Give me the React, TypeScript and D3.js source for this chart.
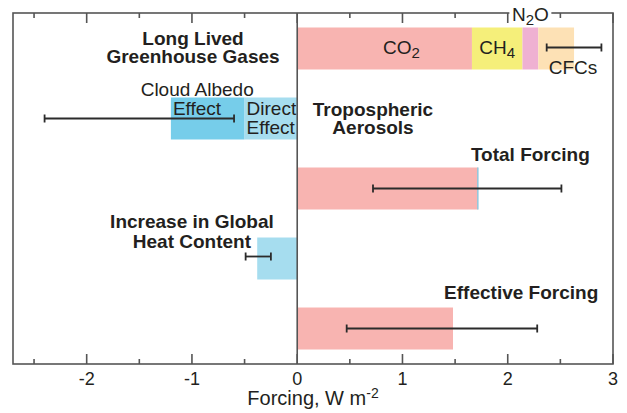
import React from "react";
import { scaleLinear, scaleBand } from "d3";

// rows, top to bottom
const rows = ["ghg", "aerosol", "total", "heat", "effective"];

const ghgNames = ["CO2", "CH4", "N2O", "CFCs"];
const ghgValues = [1.66, 0.48, 0.15, 0.34];
const ghgColors = ["#f8b4b1", "#f5ef7a", "#efb1d2", "#fde1b5"];
const ghgError = [2.37, 2.89];

const aerosolNames = ["Cloud Albedo Effect", "Direct Effect"];
const aerosolValues = [-0.7, -0.5];
const aerosolColors = ["#76cdea", "#a6ddef"];
const aerosolError = [-2.4, -0.6];

const totalValue = 1.72;
const totalError = [0.72, 2.51];

const heatValue = -0.38;
const heatError = [-0.49, -0.25];

const effectiveValue = 1.48;
const effectiveError = [0.47, 2.28];

const majorTicks = [-2, -1, 0, 1, 2, 3];
const minorTicks = [-2.5, -1.5, -0.5, 0.5, 1.5, 2.5];

const W = 627;
const H = 413;
const left = 13;
const right = 613;
const top = 13;
const bottom = 364;

const textColor = "#231f20";
const axisColor = "#555";
const font = "'Liberation Sans', Arial, Helvetica, sans-serif";

const ErrorBar: React.FC<{ x0: number; x1: number; y: number }> = ({ x0, x1, y }) => (
  <g stroke="#2b2b2b" strokeWidth={1.8}>
    <line x1={x0} x2={x1} y1={y} y2={y} />
    <line x1={x0} x2={x0} y1={y - 4} y2={y + 4} />
    <line x1={x1} x2={x1} y1={y - 4} y2={y + 4} />
  </g>
);

export default function App() {
  const x = scaleLinear().domain([-2.7, 3]).range([left, right]);
  const y = scaleBand<string>().domain(rows).range([top, bottom]).paddingInner(0.4).paddingOuter(0.207);
  const bh = y.bandwidth();
  const mid = (r: string) => (y(r) as number) + bh / 2;

  // stack the greenhouse gases from zero
  const ghgStack = ghgValues.map((v, i) => {
    const start = ghgValues.slice(0, i).reduce((a, b) => a + b, 0);
    return { name: ghgNames[i], x0: start, x1: start + v, color: ghgColors[i] };
  });
  // aerosols stack to the left: direct effect nearest zero
  const aerosolStack = aerosolValues.map((v, i) => {
    const start = aerosolValues.slice(i + 1).reduce((a, b) => a + b, 0);
    return { name: aerosolNames[i], x0: start + v, x1: start, color: aerosolColors[i] };
  });

  const ghgY = y("ghg") as number;
  const aerY = y("aerosol") as number;
  const totY = y("total") as number;
  const heatY = y("heat") as number;
  const effY = y("effective") as number;

  const boldStyle = { fontFamily: font, fontWeight: 700, fontSize: 19, fill: textColor } as const;
  const normStyle = { fontFamily: font, fontSize: 19, fill: textColor } as const;
  const n2oX = (x(ghgStack[2].x0) + x(ghgStack[2].x1)) / 2;

  return (
    <svg width={W} height={H} style={{ position: "fixed", left: 0, top: 0, background: "#fff" }}>
      <rect width={W} height={H} fill="#fff" />

      {/* greenhouse gases */}
      {ghgStack.map((d) => (
        <rect key={d.name} x={x(d.x0)} y={ghgY} width={x(d.x1) - x(d.x0)} height={bh} fill={d.color} />
      ))}
      {/* aerosols */}
      {aerosolStack.map((d) => (
        <rect key={d.name} x={x(d.x0)} y={aerY} width={x(d.x1) - x(d.x0)} height={bh} fill={d.color} />
      ))}
      {/* total */}
      <rect x={x(0)} y={totY} width={x(totalValue) - x(0)} height={bh} fill="#f8b4b1" />
      <rect x={x(totalValue) - 1} y={totY} width={1.2} height={bh} fill="#76cdea" />
      {/* heat content */}
      <rect x={x(heatValue)} y={heatY} width={x(0) - x(heatValue)} height={bh} fill="#a6ddef" />
      {/* effective */}
      <rect x={x(0)} y={effY} width={x(effectiveValue) - x(0)} height={bh} fill="#f8b4b1" />

      {/* frame */}
      <g stroke={axisColor} strokeWidth={1.6} fill="none">
        <rect x={left} y={top} width={right - left} height={bottom - top} />
        <line x1={x(0)} x2={x(0)} y1={top} y2={bottom} />
        {majorTicks.map((t) => (
          <g key={`M${t}`}>
            <line x1={x(t)} x2={x(t)} y1={bottom} y2={bottom - 10} />
            <line x1={x(t)} x2={x(t)} y1={top} y2={top + 10} />
          </g>
        ))}
        {minorTicks.map((t) => (
          <g key={`m${t}`}>
            <line x1={x(t)} x2={x(t)} y1={bottom} y2={bottom - 5} />
            <line x1={x(t)} x2={x(t)} y1={top} y2={top + 5} />
          </g>
        ))}
      </g>

      {/* error bars */}
      <ErrorBar x0={x(ghgError[0])} x1={x(ghgError[1])} y={mid("ghg") - 1} />
      <ErrorBar x0={x(aerosolError[0])} x1={x(aerosolError[1])} y={mid("aerosol")} />
      <ErrorBar x0={x(totalError[0])} x1={x(totalError[1])} y={mid("total")} />
      <ErrorBar x0={x(heatError[0])} x1={x(heatError[1])} y={mid("heat") - 2} />
      <ErrorBar x0={x(effectiveError[0])} x1={x(effectiveError[1])} y={mid("effective")} />

      {/* gas labels */}
      <text {...normStyle} x={x(0.99)} y={ghgY + 27} textAnchor="middle">
        CO<tspan fontSize={15} dy={4}>2</tspan>
      </text>
      <text {...normStyle} x={(x(ghgStack[1].x0) + x(ghgStack[1].x1)) / 2} y={ghgY + 27} textAnchor="middle">
        CH<tspan fontSize={15} dy={4}>4</tspan>
      </text>
      <rect x={n2oX - 21} y={top - 8} width={42} height={16} fill="#fff" />
      <text {...normStyle} x={n2oX} y={top + 8} textAnchor="middle">
        N<tspan fontSize={15} dy={4}>2</tspan><tspan dy={-4}>O</tspan>
      </text>
      <text {...normStyle} x={x(2.62)} y={ghgY + 47} textAnchor="middle">
        CFCs
      </text>

      {/* aerosol labels */}
      <text {...normStyle} x={x(-0.95)} y={aerY - 1} textAnchor="middle">Cloud Albedo</text>
      <text {...normStyle} x={x(aerosolStack[0].x0) + 2} y={aerY + 18}>Effect</text>
      <text {...normStyle} x={x(aerosolStack[1].x0) + 2} y={aerY + 18}>Direct</text>
      <text {...normStyle} x={x(aerosolStack[1].x0) + 2} y={aerY + 37}>Effect</text>

      {/* row titles */}
      <text {...boldStyle} textAnchor="middle">
        <tspan x={x(-0.99)} y={ghgY + 18}>Long Lived</tspan>
        <tspan x={x(-0.99)} y={ghgY + 36}>Greenhouse Gases</tspan>
      </text>
      <text {...boldStyle} textAnchor="middle">
        <tspan x={x(0.72)} y={aerY + 19}>Tropospheric</tspan>
        <tspan x={x(0.72)} y={aerY + 37}>Aerosols</tspan>
      </text>
      <text {...boldStyle} x={x(2.78)} y={totY - 6} textAnchor="end">Total Forcing</text>
      <text {...boldStyle} textAnchor="middle">
        <tspan x={x(-1.0)} y={heatY - 10}>Increase in Global</tspan>
        <tspan x={x(-1.0)} y={heatY + 10}>Heat Content</tspan>
      </text>
      <text {...boldStyle} x={x(2.86)} y={effY - 9} textAnchor="end">Effective Forcing</text>

      {/* tick labels */}
      {majorTicks.map((t) => (
        <text key={`l${t}`} {...normStyle} fontSize={18} x={x(t)} y={bottom + 21} textAnchor="middle">
          {t}
        </text>
      ))}
      <text {...normStyle} fontSize={20} x={(left + right) / 2} y={H - 8} textAnchor="middle">
        Forcing, W m<tspan fontSize={14} dy={-7}>-2</tspan>
      </text>
    </svg>
  );
}
